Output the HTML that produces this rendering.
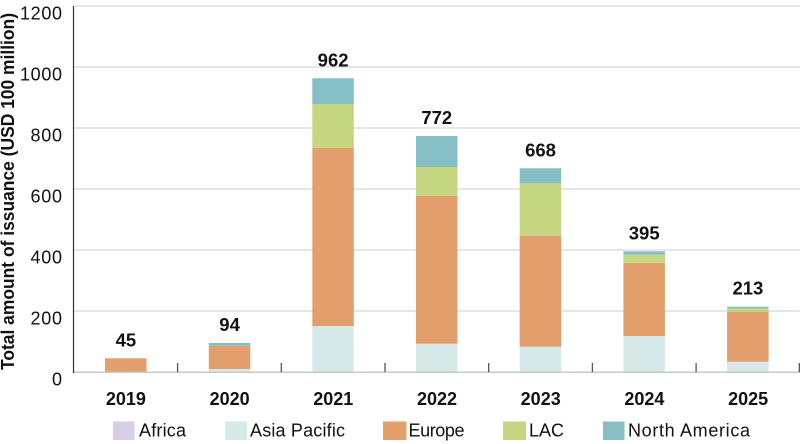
<!DOCTYPE html>
<html><head><meta charset="utf-8"><style>
html,body{margin:0;padding:0;background:#fff;}
svg{display:block;}
text{font-family:"Liberation Sans","Noto Sans CJK JP",sans-serif;fill:#111;}
</style></head><body>
<svg width="800" height="444" viewBox="0 0 800 444" xmlns="http://www.w3.org/2000/svg">
<!-- gridlines -->
<g stroke="#e6e6e6" stroke-width="2">
<line x1="74" y1="6" x2="800" y2="6"/>
<line x1="74" y1="67" x2="800" y2="67"/>
<line x1="74" y1="128" x2="800" y2="128"/>
<line x1="74" y1="189" x2="800" y2="189"/>
<line x1="74" y1="250" x2="800" y2="250"/>
<line x1="74" y1="311" x2="800" y2="311"/>
</g>
<!-- bars -->
<g>
<!-- 2019 -->
<rect x="105" y="358.3" width="41.5" height="13.7" fill="#e29f6b"/>
<!-- 2020 -->
<rect x="208.8" y="369" width="41.5" height="3" fill="#d7e8e8"/>
<rect x="208.8" y="345.7" width="41.5" height="23.3" fill="#e29f6b"/>
<rect x="208.8" y="343" width="41.5" height="2.7" fill="#85bfc5"/>
<!-- 2021 -->
<rect x="312.3" y="326" width="41.5" height="46" fill="#d7e8e8"/>
<rect x="312.3" y="148" width="41.5" height="178" fill="#e29f6b"/>
<rect x="312.3" y="104" width="41.5" height="44" fill="#c5d580"/>
<rect x="312.3" y="78.3" width="41.5" height="25.7" fill="#85bfc5"/>
<!-- 2022 -->
<rect x="416" y="343.7" width="41.5" height="28.3" fill="#d7e8e8"/>
<rect x="416" y="196" width="41.5" height="147.7" fill="#e29f6b"/>
<rect x="416" y="167" width="41.5" height="29" fill="#c5d580"/>
<rect x="416" y="136" width="41.5" height="31" fill="#85bfc5"/>
<!-- 2023 -->
<rect x="519.7" y="346.7" width="41.5" height="25.3" fill="#d7e8e8"/>
<rect x="519.7" y="235.7" width="41.5" height="111" fill="#e29f6b"/>
<rect x="519.7" y="183.3" width="41.5" height="52.4" fill="#c5d580"/>
<rect x="519.7" y="168.3" width="41.5" height="15" fill="#85bfc5"/>
<!-- 2024 -->
<rect x="623.4" y="336" width="41.5" height="36" fill="#d7e8e8"/>
<rect x="623.4" y="262.7" width="41.5" height="73.3" fill="#e29f6b"/>
<rect x="623.4" y="254.7" width="41.5" height="8" fill="#c5d580"/>
<rect x="623.4" y="251.3" width="41.5" height="3.4" fill="#85bfc5"/>
<!-- 2025 -->
<rect x="727.1" y="361.7" width="41.5" height="10.3" fill="#d7e8e8"/>
<rect x="727.1" y="311.7" width="41.5" height="50" fill="#e29f6b"/>
<rect x="727.1" y="308.3" width="41.5" height="3.4" fill="#c5d580"/>
<rect x="727.1" y="306.7" width="41.5" height="1.6" fill="#85bfc5"/>
</g>
<!-- baseline and axis -->
<line x1="74" y1="372.3" x2="800" y2="372.3" stroke="#c8c8c8" stroke-width="1.5"/>
<line x1="73.5" y1="6" x2="73.5" y2="373" stroke="#333" stroke-width="1.2"/>
<g stroke="#555" stroke-width="1.3">
<line x1="177.6" y1="363" x2="177.6" y2="372"/>
<line x1="281.3" y1="363" x2="281.3" y2="372"/>
<line x1="385" y1="363" x2="385" y2="372"/>
<line x1="488.7" y1="363" x2="488.7" y2="372"/>
<line x1="592.4" y1="363" x2="592.4" y2="372"/>
<line x1="696.1" y1="363" x2="696.1" y2="372"/>
<line x1="799.3" y1="363" x2="799.3" y2="372"/>
</g>
<!-- y tick labels -->
<g font-size="18" text-anchor="end">
<text x="62" y="19.3" textLength="42">1200</text>
<text x="62" y="80.3" textLength="42">1000</text>
<text x="62" y="141.3" textLength="31.5">800</text>
<text x="62" y="202.3" textLength="31.5">600</text>
<text x="62" y="263.3" textLength="31.5">400</text>
<text x="62" y="324.3" textLength="31.5">200</text>
<text x="62" y="385.3" textLength="10">0</text>
</g>
<!-- y title -->
<text transform="translate(14,370) rotate(-90)" font-size="18.5" font-weight="bold" textLength="357" lengthAdjust="spacingAndGlyphs">Total amount of issuance (USD 100 million)</text>
<!-- x labels -->
<g font-size="18" font-weight="bold" text-anchor="middle">
<text x="125.9" y="405">2019</text>
<text x="229.6" y="405">2020</text>
<text x="333.3" y="405">2021</text>
<text x="437" y="405">2022</text>
<text x="540.7" y="405">2023</text>
<text x="644.4" y="405">2024</text>
<text x="748.1" y="405">2025</text>
</g>
<!-- value labels -->
<g font-size="18.5" font-weight="bold" text-anchor="middle">
<text x="125.9" y="346.5">45</text>
<text x="229.6" y="331">94</text>
<text x="333.1" y="66.5">962</text>
<text x="436.8" y="124">772</text>
<text x="540.5" y="156.3">668</text>
<text x="644.2" y="239.3">395</text>
<text x="747.9" y="294.7">213</text>
</g>
<!-- legend -->
<rect x="113" y="421.5" width="21.5" height="18.5" fill="#d9cfe4"/>
<rect x="225" y="421.5" width="22" height="18.5" fill="#d7e8e8"/>
<rect x="383" y="421.5" width="23.5" height="18.5" fill="#e29f6b"/>
<rect x="503" y="421.5" width="23" height="18.5" fill="#c5d580"/>
<rect x="603" y="421.5" width="21.5" height="18.5" fill="#85bfc5"/>
<g font-size="18">
<text x="139" y="436.5" textLength="47">Africa</text>
<text x="250" y="436.5" textLength="95">Asia Pacific</text>
<text x="408.5" y="436.5" textLength="56">Europe</text>
<text x="529" y="436.5" textLength="35">LAC</text>
<text x="628" y="436.5" textLength="122">North America</text>
</g>
</svg>
</body></html>
